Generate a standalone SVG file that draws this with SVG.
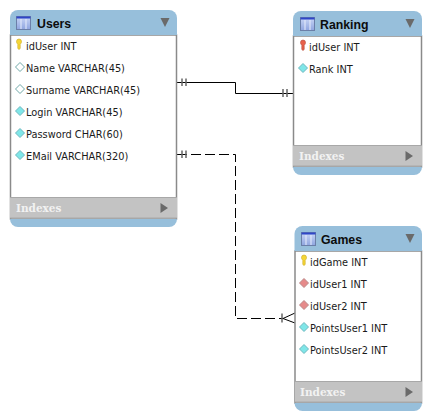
<svg xmlns="http://www.w3.org/2000/svg" width="431" height="420" viewBox="0 0 431 420">
<defs>
<linearGradient id="ic" x1="0" y1="0" x2="0" y2="1"><stop offset="0" stop-color="#c9d6f5"/><stop offset="1" stop-color="#8fa5e0"/></linearGradient>
<g id="tableIcon"><rect x="0.5" y="0.5" width="14" height="13" fill="url(#ic)" stroke="#6b7fa8"/><rect x="0.5" y="0.5" width="14" height="2" fill="#2f46c8"/><path d="M5 3v10M10 3v10" stroke="#e8eefc" stroke-width="1"/></g>
<g id="key"><path d="M-2.500 -3.500a2.500 2.500 0 0 1 5 0c0 1.600-.8 2-1.300 2.800V3.500L0 4.500-1.200 3.500V-0.700c-.5-.8-1.300-1.200-1.300-2.800z"/></g>
<g id="dia"><path d="M0 -4.500L4.500 0 0 4.500-4.500 0z"/></g>
</defs>
<style>
.body{fill:#fff;stroke:#8a8a8a;stroke-width:1.500}
.head{fill:#97bfdb}
.idx{fill:#c3c3c3}
.sep{stroke:#a8a8a8;stroke-width:1;fill:none}
.title{font:bold 12.300px "Liberation Sans","DejaVu Sans",sans-serif;fill:#0c0c0c}
.col{font:9.800px "DejaVu Sans","Liberation Sans",sans-serif;fill:#1a1a1a}
.ix{font:bold 10.500px "DejaVu Serif","Liberation Serif",serif;fill:#f2f2f2}
.tri{fill:#6a6a6a}
.open{fill:#fff;stroke:#6fa8a8;stroke-width:1}
.full{fill:#7fe6e8;stroke:#6fb8c0;stroke-width:1}
.fk{fill:#e68a8a;stroke:#b88;stroke-width:1}
.pk{fill:#f5d637;stroke:#c9a820;stroke-width:.6}
.rk{fill:#e8604a;stroke:#b04a3a;stroke-width:.6}
.ln{fill:none;stroke:#000;stroke-width:1}
.dash{stroke-dasharray:10 4}
.tick{stroke:#666;stroke-width:1.500;fill:none}
</style>
<g id="connectors">
<path class="ln" d="M177 82.500H235.500V93.500H293"/>
<path class="tick" d="M182 78.500V86M186 78.500V86M283 89V97M287 89V97"/>
<path class="ln dash" d="M177 154.500H235.500V318.500H283"/>
<path class="tick" d="M182 150.500V158M186 150.500V158M282 313.500V322.500"/>
<path class="ln" d="M283 318.500L295 313M283 318.500L295 323"/>
</g>
<g id="users">
<path class="body" d="M10.500 35H176.500V219H10.500z"/>
<path class="head" d="M10 35V18a8 8 0 0 1 8-8H169a8 8 0 0 1 8 8V35z"/>
<rect class="idx" x="10" y="197" width="167" height="21"/>
<path class="sep" d="M10 197.500H177M10 218H177"/>
<path class="head" d="M10 219H177V219a8 8 0 0 1-8 8H18a8 8 0 0 1-8-8z"/>
<use href="#tableIcon" x="16" y="16"/>
<text class="title" x="37" y="28">Users</text>
<path class="tri" d="M160.500 18H169.500L165 27z"/>
<use href="#key" x="19" y="45" class="pk"/>
<text class="col" x="26" y="50">idUser INT</text>
<use href="#dia" x="20" y="67" class="open"/><text class="col" x="26" y="72">Name VARCHAR(45)</text>
<use href="#dia" x="20" y="89" class="open"/><text class="col" x="26" y="94">Surname VARCHAR(45)</text>
<use href="#dia" x="20" y="111" class="full"/><text class="col" x="26" y="116">Login VARCHAR(45)</text>
<use href="#dia" x="20" y="133" class="full"/><text class="col" x="26" y="138">Password CHAR(60)</text>
<use href="#dia" x="20" y="155" class="full"/><text class="col" x="26" y="160">EMail VARCHAR(320)</text>
<text class="ix" x="16" y="212">Indexes</text>
<path class="tri" d="M160.500 203V213L168 208z"/>
</g>
<g id="ranking">
<path class="body" d="M293.500 36H421.500V167H293.500z"/>
<path class="head" d="M293 36V19a8 8 0 0 1 8-8H414a8 8 0 0 1 8 8V36z"/>
<rect class="idx" x="293" y="145" width="129" height="21"/>
<path class="sep" d="M293 145.500H422M293 166H422"/>
<path class="head" d="M293 167H422a8 8 0 0 1-8 8H301a8 8 0 0 1-8-8z"/>
<use href="#tableIcon" x="300" y="17"/>
<text class="title" x="320" y="29">Ranking</text>
<path class="tri" d="M405.500 19H414.500L410 28z"/>
<use href="#key" x="303" y="46" class="rk"/>
<text class="col" x="309" y="51">idUser INT</text>
<use href="#dia" x="303" y="68" class="full"/><text class="col" x="309" y="73">Rank INT</text>
<text class="ix" x="299" y="160">Indexes</text>
<path class="tri" d="M405.500 151V161L413 156z"/>
</g>
<g id="games">
<path class="body" d="M295 251H421.500V403H295z"/>
<path class="head" d="M294.500 251V234a8 8 0 0 1 8-8H414a8 8 0 0 1 8 8V251z"/>
<rect class="idx" x="295" y="381" width="127" height="21"/>
<path class="sep" d="M295 381.500H422M295 402H422"/>
<path class="head" d="M294.500 403H422a8 8 0 0 1-8 8H302.500a8 8 0 0 1-8-8z"/>
<use href="#tableIcon" x="301" y="232"/>
<text class="title" x="321" y="244">Games</text>
<path class="tri" d="M405.500 234H414.500L410 243z"/>
<use href="#key" x="304" y="261" class="pk"/>
<text class="col" x="310" y="266">idGame INT</text>
<use href="#dia" x="304" y="283" class="fk"/><text class="col" x="310" y="288">idUser1 INT</text>
<use href="#dia" x="304" y="305" class="fk"/><text class="col" x="310" y="310">idUser2 INT</text>
<use href="#dia" x="304" y="327" class="full"/><text class="col" x="310" y="332">PointsUser1 INT</text>
<use href="#dia" x="304" y="349" class="full"/><text class="col" x="310" y="354">PointsUser2 INT</text>
<text class="ix" x="300" y="396">Indexes</text>
<path class="tri" d="M405.500 387V397L413 392z"/>
</g>
</svg>
